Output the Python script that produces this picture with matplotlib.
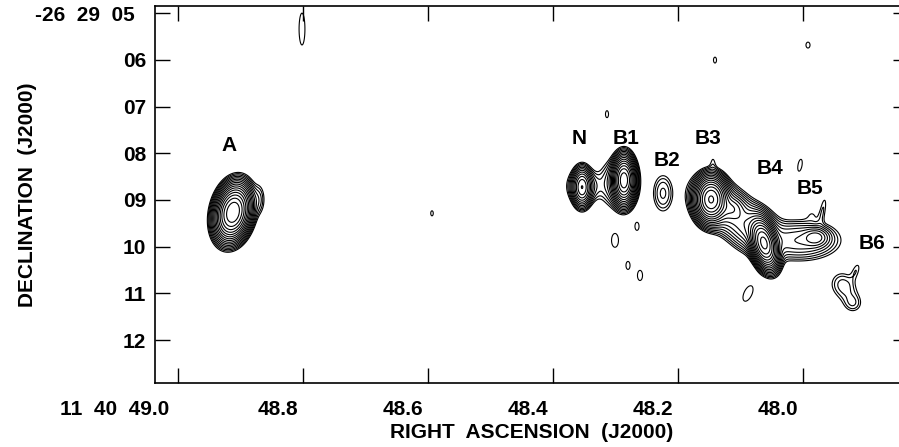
import numpy as np
import matplotlib.pyplot as plt
from matplotlib.transforms import ScaledTranslation

plt.rcParams['font.family'] = ['Liberation Sans', 'DejaVu Sans']
plt.rcParams['font.weight'] = 'bold'

# Gaussian components
# ra: seconds past 11h40m, dec: arcsec past -26d29m, peak in units of the lowest contour,
# smaj/smin: sigma along major/minor axis (arcsec), pa: major axis angle from north (deg)
comp_name = ['A', 'A bump', 'N', 'N halo', 'B1', 'B1 halo', 'B2',
             'B3', 'B3 halo', 'B3b', 'B3 spike', 'B4', 'B4 halo', 'B4-B5 band',
             'B5', 'B5 spike1', 'B5 spike2', 'B6a', 'B6b', 'B6 link', 'B6 spike',
             'x1', 'x2', 'x3', 'x4', 'x5', 'x6', 'x7', 'x8', 'x9', 'x10', 'x11']
comp_ra   = [48.912, 48.8704, 48.3536, 48.3504, 48.2864, 48.2960, 48.224,
             48.1472, 48.1328, 48.1120, 48.1440, 48.0624, 48.0816, 48.0048,
             47.9792, 47.9680, 47.9856, 47.9376, 47.9200, 47.9280, 47.9152,
             48.8016, 48.5936, 48.3136, 48.2656, 48.3008, 48.2800, 48.2608, 48.0048, 48.0880,
             48.1408, 47.9920]
comp_dec  = [9.264, 8.985, 8.728, 8.707, 8.578, 8.643, 8.857,
             8.985, 9.114, 9.178, 8.193, 9.928, 9.607, 9.864,
             9.800, 9.200, 9.307, 10.785, 11.214, 10.999, 10.507,
             5.343, 9.285, 7.164, 9.564, 9.864, 10.400, 10.614, 8.257, 11.000,
             6.007, 5.686]
comp_peak = [256, 2.0, 40, 6, 160, 6, 3.1,
             180, 15, 10, 1.0, 200, 15, 8,
             10, 1.4, 0.8, 2.0, 1.8, 1.2, 1.3,
             1.35, 1.35, 1.35, 1.35, 1.35, 1.35, 1.35, 1.35, 1.35,
             1.35, 1.35]
comp_smaj = [0.26, 0.21, 0.193, 0.19, 0.225, 0.28, 0.25,
             0.215, 0.34, 0.13, 0.15, 0.24, 0.34, 0.43,
             0.15, 0.24, 0.11, 0.17, 0.13, 0.17, 0.15,
             0.44, 0.07, 0.096, 0.11, 0.19, 0.11, 0.14, 0.166, 0.23,
             0.081, 0.081]
comp_smin = [0.16, 0.086, 0.097, 0.19, 0.107, 0.215, 0.135,
             0.15, 0.235, 0.13, 0.054, 0.12, 0.235, 0.215,
             0.107, 0.054, 0.11, 0.17, 0.13, 0.17, 0.064,
             0.081, 0.035, 0.042, 0.056, 0.096, 0.056, 0.07, 0.056, 0.11,
             0.042, 0.056]
comp_pa   = [12, 0, 0, 0, 0, 0, 0,
             0, 125, 0, 0, -15, 125, 90,
             90, 10, 0, 0, 0, 0, 20,
             0, 0, 0, 0, 0, 0, 0, 10, 25,
             0, 0]

# contour levels: lowest contour times powers of sqrt(2)
levels = np.sqrt(2) ** np.arange(0, 22)

# source labels
lab_text = ['A', 'N', 'B1', 'B2', 'B3', 'B4', 'B5', 'B6']
lab_ra   = [48.9184, 48.3584, 48.2832, 48.2176, 48.152, 48.0528, 47.9888, 47.8896]
lab_dec  = [7.83, 7.68, 7.68, 8.15, 7.68, 8.32, 8.75, 9.93]

xticks = [49.0, 48.8, 48.6, 48.4, 48.2, 48.0]
xlabels = ['11  40  49.0', '48.8', '48.6', '48.4', '48.2', '48.0']
yticks = [5, 6, 7, 8, 9, 10, 11, 12]
ylabels = ['-26  29  05', '06', '07', '08', '09', '10', '11', '12']

ra_lim = (49.0368, 47.8320)
dec_lim = (12.915, 4.85)
cosd = 15.0 * np.cos(np.radians(26.486))   # arcsec per second of RA

ra = np.linspace(ra_lim[1], ra_lim[0], 1600)
dec = np.linspace(dec_lim[1], dec_lim[0], 800)
RA, DEC = np.meshgrid(ra, dec)
img = np.zeros_like(RA)
for i in range(len(comp_ra)):
    u = (comp_ra[i] - RA) * cosd          # arcsec, positive to the right (west)
    v = (comp_dec[i] - DEC)               # arcsec, positive up (north)
    pa = np.radians(comp_pa[i])
    along = u * np.sin(pa) + v * np.cos(pa)
    across = u * np.cos(pa) - v * np.sin(pa)
    img += comp_peak[i] * np.exp(-0.5 * ((along / comp_smaj[i]) ** 2 + (across / comp_smin[i]) ** 2))

fig = plt.figure(figsize=(8.99, 4.47), dpi=100)
ax = fig.add_axes([155 / 899, 1 - 383 / 447, (908 - 155) / 899, (383 - 6) / 447])
ax.contour(RA, DEC, img, levels=levels, colors='black', linewidths=0.8)

for t, x, y in zip(lab_text, lab_ra, lab_dec):
    ax.text(x, y, t, ha='center', va='center', fontsize=15, fontweight='bold')

ax.set_xlim(ra_lim)
ax.set_ylim(dec_lim)
ax.set_xticks(xticks)
ax.set_xticklabels(xlabels, ha='right')
ax.set_yticks(yticks)
ax.set_yticklabels(ylabels)
ax.tick_params(direction='in', length=11, width=1, top=True, right=True,
               labelsize=15)
ax.tick_params(axis='x', pad=12)
ax.tick_params(axis='y', pad=6.5)
for s in ax.spines.values():
    s.set_linewidth(1.2)

for i, lab in enumerate(ax.get_xticklabels()):
    dx = -9 if i == 0 else -5
    lab.set_transform(lab.get_transform() + ScaledTranslation(dx / 100, 0, fig.dpi_scale_trans))
ylab0 = ax.get_yticklabels()[0]
ylab0.set_transform(ylab0.get_transform() + ScaledTranslation(-11 / 100, 0, fig.dpi_scale_trans))

ax.set_xlabel('RIGHT  ASCENSION  (J2000)', fontsize=15, fontweight='bold')
ax.xaxis.set_label_coords(0.5, -0.106)
ax.set_ylabel('DECLINATION  (J2000)', fontsize=15, fontweight='bold')
ax.yaxis.set_label_coords(-0.157, 0.5)

fig.savefig('out.png', dpi=100)
